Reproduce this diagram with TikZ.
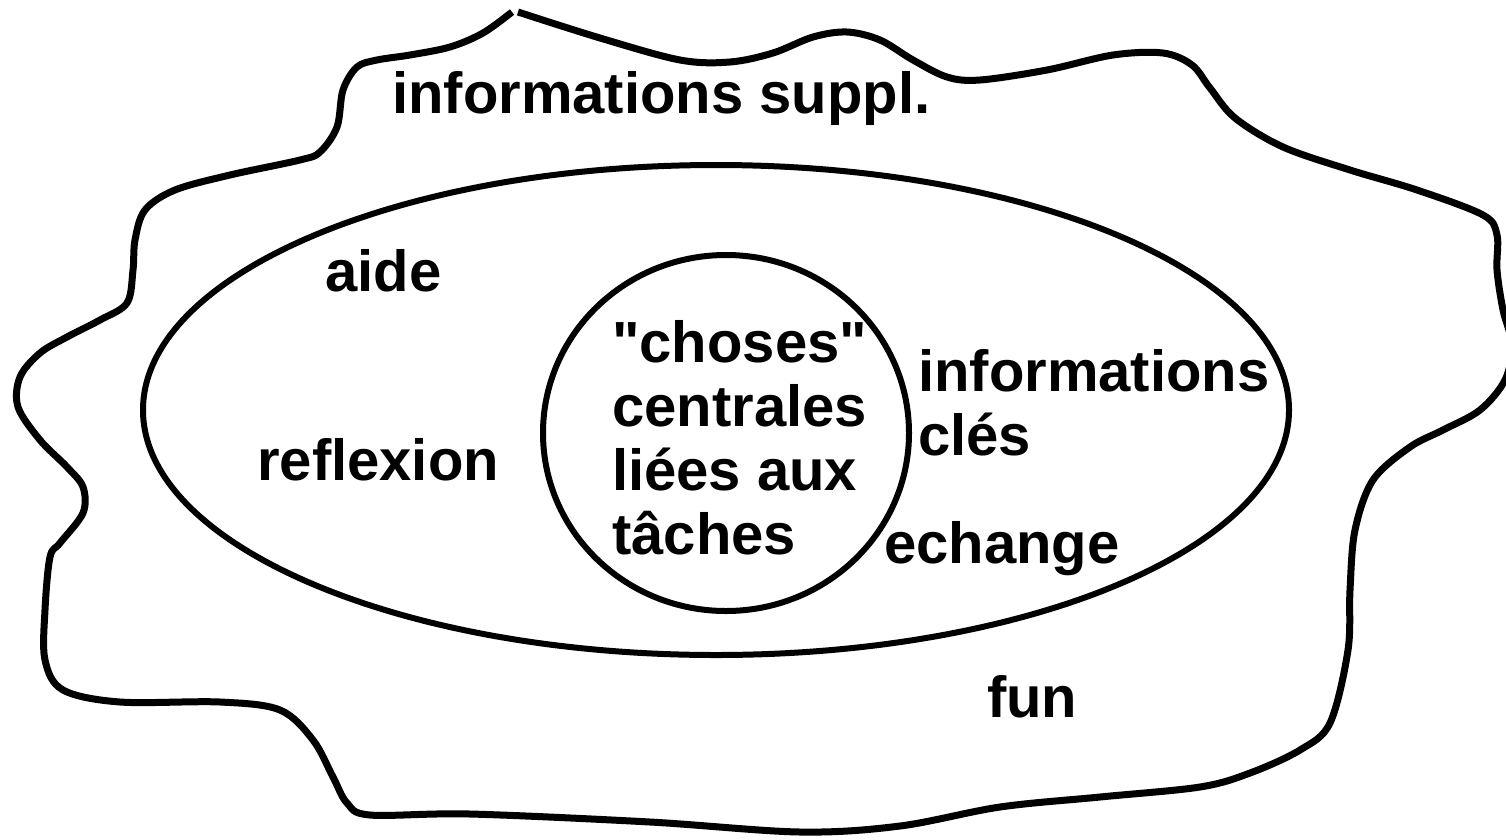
\documentclass[tikz,border=0pt]{standalone}
\usepackage{fontspec}
\setmainfont{Liberation Sans}[Ligatures=TeXOff]
\usetikzlibrary{shapes.geometric}
\begin{document}
\begin{tikzpicture}[x=1pt,y=-1pt,
  lbl/.style={inner sep=0pt,anchor=base west,align=left,font=\bfseries\fontsize{58}{64}\selectfont},
  ring/.style={draw=black,line width=6pt,ellipse,inner sep=0pt},
  blobline/.style={draw=black,line width=7pt,line cap=butt,line join=round}]
\useasboundingbox (0,0) rectangle (1506,839);
% outer blob
\draw[blobline] plot[smooth,tension=0.55] coordinates {
 (518,12) (600,38) (680,60) (730,62) (773,53) (813,37) (847,32) (880,40)
 (913,60) (947,77) (980,80) (1047,70) (1113,55) (1163,53) (1192,65)
 (1210,88) (1235,118) (1283,147)
 (1350,170) (1417,190) (1483,215) (1497,235) (1497,270) (1503,310)
 (1512,345) (1505,380) (1480,410) (1443,430) (1410,447) (1373,480)
 (1355,530) (1350,590) (1348,650) (1330,723) (1300,750) (1250,773)
 (1200,787) (1100,797) (1000,807) (900,826) (800,832) (650,822)
 (470,814) (370,815) (347,803) (333,777) (313,740) (280,710) (220,702)
 (120,702) (63,690) (45,660) (45,610) (50,557) (60,543) (83,513)
 (83,487) (67,467) (40,440) (18,407) (20,377) (40,353) (67,337)
 (100,320) (127,303) (133,270) (135,240) (145,210) (175,190) (230,175)
 (300,160) (320,152) (337,127) (343,90) (357,67) (377,60) (410,55)
 (450,47) (483,33) (512,12)};
% middle ellipse and inner circle
\node[ring,minimum width=1146pt,minimum height=490pt] (mid) at (716,410) {};
\node[ring,minimum width=366pt,minimum height=356pt] (core) at (726,433) {};
% labels
\node[lbl] (suppl) at (392,113) {informations suppl.};
\node[lbl] (fun) at (987,717) {fun};
\node[lbl] (aide) at (325,291) {aide};
\node[lbl] (reflexion) at (257,480) {reflexion};
\node[lbl] (choses) at (612,554) {"choses"\\centrales\\liées aux\\tâches};
\node[lbl] (cles) at (918,455) {informations\\clés};
\node[lbl] (echange) at (884,563) {echange};
\end{tikzpicture}
\end{document}
